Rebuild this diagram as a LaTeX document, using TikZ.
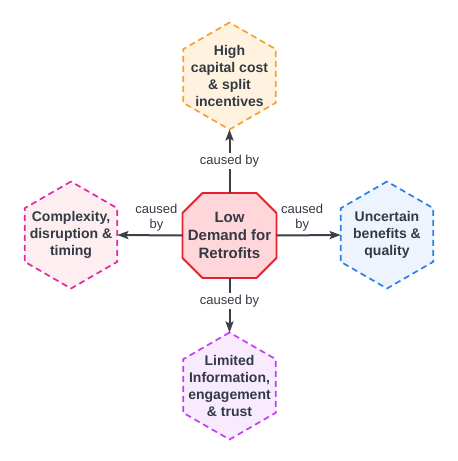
\documentclass[tikz,border=0pt]{standalone}
\usepackage{fontspec}
\setmainfont{Liberation Sans}
\usetikzlibrary{shapes.geometric,arrows.meta,backgrounds}
\definecolor{ink}{HTML}{333A44}
\definecolor{arrowc}{HTML}{3B4048}
\definecolor{topline}{HTML}{F7A035}
\definecolor{topfill}{HTML}{FFF3E0}
\definecolor{leftline}{HTML}{E2279F}
\definecolor{leftfill}{HTML}{FDEEF1}
\definecolor{rightline}{HTML}{2B7FE6}
\definecolor{rightfill}{HTML}{EDF4FE}
\definecolor{botline}{HTML}{C43CF2}
\definecolor{botfill}{HTML}{F8EBFE}
\definecolor{octline}{HTML}{E3222B}
\definecolor{octfill}{HTML}{FFD6D9}
\begin{document}
\begin{tikzpicture}[x=1pt,y=-1pt,
  hexa/.style={regular polygon, regular polygon sides=6, shape border rotate=30,
    minimum size=107pt, inner sep=0pt, outer sep=0pt, line width=1.7pt,
    dash pattern=on 6pt off 4pt},
  hext/.style={font=\bfseries\fontsize{14}{17}\selectfont, text=ink, align=center},
  arr/.style={draw=arrowc, line width=2pt, -{Stealth[length=11pt,width=8pt,inset=2pt]}},
  lbl/.style={font=\fontsize{13}{15}\selectfont, text=ink, align=center, inner sep=2pt}
]
\useasboundingbox (0,0) rectangle (458,461);

\node[hexa, draw=topline, fill=topfill, label={[hext]center:{High\\capital cost\\\& split\\incentives}}] (t) at (229.5,76) {};
\node[hexa, draw=leftline, fill=leftfill, label={[hext]center:{Complexity,\\disruption \&\\timing}}] (l) at (71,235) {};
\node[hexa, draw=rightline, fill=rightfill, label={[hext]center:{Uncertain\\benefits \&\\quality}}] (r) at (387,235) {};
\node[hexa, draw=botline, fill=botfill, label={[hext]center:{Limited\\Information,\\engagement\\\& trust}}] (b) at (229.5,386) {};

\node[rectangle, minimum width=94pt, minimum height=85pt, inner sep=0pt, outer sep=0pt,
  font=\bfseries\fontsize{15}{18}\selectfont, text=ink, align=center] (c) at (229.5,235.5) {Low\\Demand for\\Retrofits};
\begin{scope}[on background layer]
\fill[white] (0,0) rectangle (458,461);
\filldraw[fill=octfill, draw=octline, line width=1.8pt, line join=round]
  ([xshift=20pt]c.north west) -- ([xshift=-20pt]c.north east) -- ([yshift=-20pt]c.north east)
  -- ([yshift=20pt]c.south east) -- ([xshift=-20pt]c.south east) -- ([xshift=20pt]c.south west)
  -- ([yshift=20pt]c.south west) -- ([yshift=-20pt]c.north west) -- cycle;
\end{scope}

\draw[arr] (c.north) -- node[lbl, fill=white] {caused by} (t.south);
\draw[arr] (c.south) -- node[lbl, fill=white, pos=0.42] {caused by} (b.north);
\draw[arr] (c.west) -- node[lbl, above, pos=0.4, yshift=1pt] {caused\\by} (l.east);
\draw[arr] (c.east) -- node[lbl, above, pos=0.4, yshift=1pt] {caused\\by} (r.west);
\end{tikzpicture}
\end{document}
